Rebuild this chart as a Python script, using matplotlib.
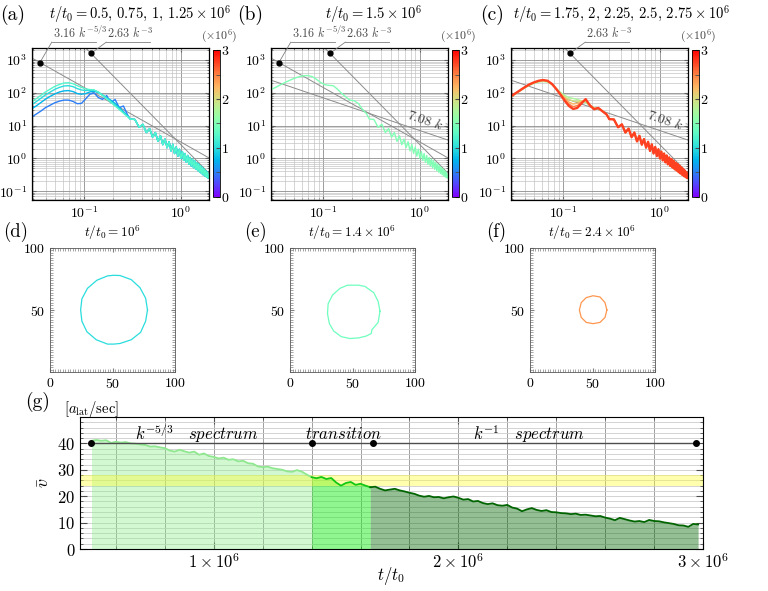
import numpy as np
import matplotlib
matplotlib.use('Agg')
import matplotlib.pyplot as plt
from matplotlib.ticker import MultipleLocator, FixedLocator, FuncFormatter, LogLocator, NullFormatter
from matplotlib.colors import Normalize
from matplotlib.cm import ScalarMappable

plt.rcParams['font.family'] = ['cmr10', 'DejaVu Serif']
plt.rcParams['mathtext.fontset'] = 'cm'
plt.rcParams['axes.formatter.use_mathtext'] = True

# ---------------- data: spectra ----------------
K_HEAD = [0.029, 0.032, 0.036, 0.040, 0.045, 0.050, 0.056, 0.062, 0.069, 0.077, 0.085, 0.094,
          0.104, 0.115, 0.127, 0.140, 0.155, 0.171, 0.189, 0.209, 0.231, 0.255, 0.282]
K_TAIL = [0.300, 0.335, 0.370, 0.405, 0.440, 0.475, 0.510, 0.545, 0.580, 0.615, 0.650, 0.685,
          0.720, 0.755, 0.790, 0.825, 0.860, 0.895, 0.930, 0.965, 1.000, 1.035, 1.070, 1.105,
          1.140, 1.175, 1.210, 1.245, 1.280, 1.315, 1.350, 1.385, 1.420, 1.455, 1.490, 1.525,
          1.560, 1.595, 1.630, 1.665, 1.700, 1.735, 1.770, 1.805, 1.840, 1.875, 1.910, 1.945]
LOGE_TAIL = [1.20, 1.19, 0.95, 1.04, 0.79, 0.91, 0.65, 0.79, 0.52, 0.69, 0.42, 0.59,
             0.33, 0.51, 0.23, 0.43, 0.15, 0.35, 0.07, 0.28, 0.00, 0.21, -0.06, 0.15,
             -0.12, 0.09, -0.18, 0.03, -0.23, -0.02, -0.28, -0.07, -0.33, -0.13, -0.37, -0.17,
             -0.42, -0.22, -0.46, -0.27, -0.50, -0.32, -0.54, -0.37, -0.57, -0.42, -0.60, -0.50]

# panel (a): t/t0 = 0.5, 0.75, 1, 1.25 (x1e6)
TIMES_A = [0.5, 0.75, 1.0, 1.25]
LOGE_A_050 = [1.27, 1.35, 1.45, 1.55, 1.63, 1.70, 1.75, 1.78, 1.78, 1.74, 1.67, 1.68,
              1.82, 1.96, 2.00, 1.86, 1.80, 1.92, 1.70, 1.80, 1.55, 1.60, 1.32]
LOGE_A_075 = [1.52, 1.60, 1.71, 1.81, 1.90, 1.97, 2.03, 2.06, 2.07, 2.04, 1.98, 1.96,
              1.98, 2.03, 2.05, 2.01, 1.93, 1.85, 1.78, 1.68, 1.55, 1.43, 1.30]
LOGE_A_100 = [1.65, 1.73, 1.84, 1.94, 2.03, 2.11, 2.17, 2.21, 2.22, 2.19, 2.13, 2.09,
              2.07, 2.08, 2.08, 2.03, 1.94, 1.85, 1.74, 1.63, 1.52, 1.40, 1.28]
LOGE_A_125 = [1.74, 1.82, 1.93, 2.03, 2.12, 2.20, 2.26, 2.30, 2.31, 2.28, 2.22, 2.17,
              2.12, 2.10, 2.09, 2.02, 1.92, 1.82, 1.71, 1.60, 1.49, 1.38, 1.27]

# panel (b): t/t0 = 1.5
TIMES_B = [1.5]
LOGE_B_150 = [2.10, 2.16, 2.24, 2.31, 2.38, 2.44, 2.49, 2.52, 2.53, 2.50, 2.42, 2.32,
              2.25, 2.23, 2.22, 2.12, 1.99, 1.88, 1.78, 1.76, 1.68, 1.50, 1.36]

# panel (c): t/t0 = 1.75, 2, 2.25, 2.5, 2.75
TIMES_C = [1.75, 2.0, 2.25, 2.5, 2.75]
LOGE_C_175 = [1.88, 1.96, 2.06, 2.15, 2.23, 2.29, 2.33, 2.35, 2.33, 2.25, 2.13, 2.02,
              1.92, 1.86, 1.83, 1.80, 1.76, 1.70, 1.62, 1.55, 1.50, 1.45, 1.34]
LOGE_C_200 = [1.89, 1.97, 2.07, 2.16, 2.24, 2.30, 2.35, 2.37, 2.35, 2.26, 2.13, 1.99,
              1.88, 1.80, 1.75, 1.74, 1.76, 1.74, 1.62, 1.55, 1.52, 1.45, 1.34]
LOGE_C_225 = [1.89, 1.97, 2.07, 2.16, 2.25, 2.31, 2.36, 2.38, 2.36, 2.27, 2.12, 1.97,
              1.84, 1.72, 1.66, 1.68, 1.74, 1.78, 1.63, 1.53, 1.53, 1.44, 1.34]
LOGE_C_250 = [1.90, 1.98, 2.08, 2.17, 2.26, 2.32, 2.37, 2.39, 2.37, 2.27, 2.12, 1.96,
              1.80, 1.66, 1.58, 1.61, 1.71, 1.80, 1.62, 1.51, 1.54, 1.44, 1.34]
LOGE_C_275 = [1.90, 1.98, 2.08, 2.17, 2.26, 2.32, 2.37, 2.39, 2.37, 2.27, 2.12, 1.95,
              1.76, 1.60, 1.51, 1.54, 1.68, 1.81, 1.62, 1.50, 1.54, 1.44, 1.34]

# reference power laws
COEF_53, COEF_3, COEF_1 = 3.16, 2.63, 7.08
K_DOT_53, K_DOT_3 = 0.035, 0.118

# ---------------- data: contours ----------------
CX_D = [78, 76.5, 72, 65, 56, 51, 46, 37.5, 30, 25.5, 24.5, 25.5, 29.5, 37, 46, 51, 56, 65, 72.5, 76.5, 78]
CY_D = [50, 59.5, 68, 74.5, 77.8, 78, 77.5, 74, 67.5, 59, 50, 41, 32.5, 26, 22.5, 22.5, 23, 26, 32, 41, 50]
CX_E = [72, 70.5, 67, 60, 55, 46, 40, 34, 30.5, 30, 31.5, 35, 41, 48, 55, 61, 65, 65.5, 70.5, 72]
CY_E = [49, 57, 64, 69, 70, 70, 67.5, 62, 55, 47, 39, 33, 28.5, 27, 27.5, 29, 31, 34, 40, 49]
CX_F = [61.5, 60, 56, 50.5, 45, 41, 39.5, 41, 45, 50.5, 56, 60, 61.5]
CY_F = [50, 56, 60.5, 61.5, 60, 56, 50, 44, 40, 39, 40, 44, 50]
T_CONTOURS = [1.0, 1.4, 2.4]

# ---------------- data: mean velocity ----------------
T_START, T_END = 0.50, 2.98
V_BAR = [41.0, 41.3, 41.0, 41.2, 40.2, 40.6, 40.3, 40.5, 40.0, 39.9, 39.6, 39.4, 38.8, 38.9, 38.5,
         38.2, 37.3, 36.9, 37.6, 37.0, 36.5, 36.9, 35.7, 36.2, 35.2, 34.9, 34.3, 34.6, 33.8, 34.0,
         33.2, 33.4, 32.5, 32.3, 31.3, 31.0, 31.2, 30.6, 30.3, 30.0, 29.4, 29.2, 29.9, 29.3, 28.2,
         27.2, 26.8, 27.3, 26.5, 26.9, 25.2, 24.0, 25.0, 25.4, 24.3, 24.7, 24.0, 23.4,
         23.6, 22.8, 22.2, 22.5, 22.8, 22.2, 21.8, 21.3, 20.9, 20.2, 19.8, 20.1, 19.6, 19.7, 19.2,
         19.6, 19.9, 19.4, 18.7, 18.9, 18.0, 18.2, 17.4, 17.0, 17.3, 16.6, 16.4, 16.7, 15.7, 15.3,
         14.3, 15.0, 15.5, 14.8, 14.4, 14.7, 14.0, 13.9, 13.6, 13.5, 13.2, 13.4, 12.9, 13.0, 12.7,
         12.4, 12.5, 11.9, 11.5, 10.9, 11.8, 11.3, 10.8, 10.4, 10.6, 10.2, 11.0, 10.6, 10.5, 10.1,
         9.8, 9.5, 9.0, 8.9, 8.4, 9.5, 9.3]
T_MARKS = [0.5, 1.4, 1.65, 2.97]
T_TRANS1, T_TRANS2 = 1.40, 1.65
BAND = (24, 28)

# ---------------- layout helpers ----------------
W, H = 768, 591
fig = plt.figure(figsize=(W / 100, H / 100), dpi=100)


def rect(l, t, r, b):
    return [l / W, 1 - b / H, (r - l) / W, (b - t) / H]


def ftext(x, y, s, **kw):
    fig.text(x / W, 1 - y / H, s, **kw)


cmap = plt.get_cmap('rainbow')
norm = Normalize(0, 3)
K_ALL = np.array(K_HEAD + K_TAIL)


def spectrum_axes(left, curves, show53, show1):
    ax = fig.add_axes(rect(left, 48, left + 177, 200))
    ax.set_xscale('log')
    ax.set_yscale('log')
    ax.set_xlim(0.029, 1.95)
    ax.set_ylim(0.054, 2340)
    ax.xaxis.set_major_locator(LogLocator(base=10, numticks=10))
    ax.yaxis.set_major_locator(LogLocator(base=10, numticks=10))
    ax.xaxis.set_minor_locator(LogLocator(base=10, subs=np.arange(2, 10), numticks=20))
    ax.yaxis.set_minor_locator(LogLocator(base=10, subs=np.arange(2, 10), numticks=20))
    ax.xaxis.set_minor_formatter(NullFormatter())
    ax.yaxis.set_minor_formatter(NullFormatter())
    ax.grid(True, which='major', color='0.55', lw=0.6)
    ax.grid(True, which='minor', color='0.75', lw=0.45)
    ax.set_axisbelow(True)
    ax.tick_params(which='both', direction='in', top=True, right=True, labelsize=10, color='0.4')
    ax.tick_params(which='major', length=3)
    ax.tick_params(which='minor', length=1.5)
    for s in ax.spines.values():
        s.set_linewidth(0.9)
    kk = np.array([0.029, 1.95])
    ax.plot(kk, COEF_3 * kk ** -3.0, color='0.55', lw=0.7)
    ax.plot([K_DOT_3], [COEF_3 * K_DOT_3 ** -3.0], 'o', color='k', ms=3.5, clip_on=False, zorder=6)
    if show53:
        ax.plot(kk, COEF_53 * kk ** (-5 / 3), color='0.55', lw=0.7)
        ax.plot([K_DOT_53], [COEF_53 * K_DOT_53 ** (-5 / 3)], 'o', color='k', ms=3.5, clip_on=False, zorder=6)
    if show1:
        ax.plot(kk, COEF_1 * kk ** -1.0, color='0.55', lw=0.7)
        ax.text(0.70, COEF_1 / 0.70 * 1.28, r'$7.08\ k^{-1}$', rotation=-18.7, rotation_mode='anchor',
                ha='left', va='bottom', fontsize=10, color='0.25', clip_on=True)
    for i, (t, vals) in enumerate(curves):
        lw = 1.7 if (i == len(curves) - 1 and len(curves) == 5) else 1.0
        ax.plot(K_ALL, 10 ** np.array(vals + LOGE_TAIL), color=cmap(norm(t)), lw=lw)
    # annotation leaders
    fyl = 1.039
    if show53:
        x0, x1 = 0.112, 0.36
        ax.annotate('', xy=(K_DOT_53, COEF_53 * K_DOT_53 ** (-5 / 3)), xycoords='data',
                    xytext=(x0, fyl), textcoords='axes fraction', annotation_clip=False,
                    arrowprops=dict(arrowstyle='-', color='0.5', lw=0.6, shrinkA=0, shrinkB=0))
        ax.plot([x0, x1], [fyl, fyl], transform=ax.transAxes, clip_on=False, color='0.5', lw=0.6)
        ax.text(x0 + 0.005, fyl + 0.008, r'$3.16\ k^{-5/3}$', transform=ax.transAxes, fontsize=8.8,
                va='bottom', ha='left', color='0.3')
    x0, x1 = 0.42, 0.665
    ax.annotate('', xy=(K_DOT_3, COEF_3 * K_DOT_3 ** -3.0), xycoords='data',
                xytext=(x0, fyl), textcoords='axes fraction', annotation_clip=False,
                arrowprops=dict(arrowstyle='-', color='0.5', lw=0.6, shrinkA=0, shrinkB=0))
    ax.plot([x0, x1], [fyl, fyl], transform=ax.transAxes, clip_on=False, color='0.5', lw=0.6)
    ax.text(x0 + 0.005, fyl + 0.008, r'$2.63\ k^{-3}$', transform=ax.transAxes, fontsize=8.8,
            va='bottom', ha='left', color='0.3')
    # colorbar
    cax = fig.add_axes(rect(left + 181, 50, left + 188, 197))
    cb = fig.colorbar(ScalarMappable(norm=norm, cmap=cmap), cax=cax)
    cb.set_ticks([0, 1, 2, 3])
    cb.ax.yaxis.set_minor_locator(MultipleLocator(0.5))
    cb.ax.tick_params(which='both', direction='in', labelsize=10, length=3, color='0.3', pad=1)
    cb.outline.set_linewidth(0.6)
    ftext(left + 187, 36, r'$(\times10^6)$', ha='center', va='center', fontsize=8.5, color='0.25')
    return ax


spectrum_axes(32, [(t, v) for t, v in zip(TIMES_A, [LOGE_A_050, LOGE_A_075, LOGE_A_100, LOGE_A_125])],
              True, False)
spectrum_axes(271, [(TIMES_B[0], LOGE_B_150)], True, True)
spectrum_axes(511, [(t, v) for t, v in zip(TIMES_C, [LOGE_C_175, LOGE_C_200, LOGE_C_225, LOGE_C_250, LOGE_C_275])],
              False, True)

ftext(13, 15, '(a)', ha='center', va='center', fontsize=14)
ftext(250, 15, '(b)', ha='center', va='center', fontsize=14)
ftext(492, 15, '(c)', ha='center', va='center', fontsize=14)
ftext(140, 14, r'$t/t_0 = 0.5,\, 0.75,\, 1,\, 1.25\times10^6$', ha='center', va='center', fontsize=10.5)
ftext(374, 14, r'$t/t_0 = 1.5\times10^6$', ha='center', va='center', fontsize=10.5)
ftext(622, 14, r'$t/t_0 = 1.75,\, 2,\, 2.25,\, 2.5,\, 2.75\times10^6$', ha='center', va='center', fontsize=10.5)

# ---------------- contour panels ----------------
cont = [(CX_D, CY_D), (CX_E, CY_E), (CX_F, CY_F)]
titles = [r'$t/t_0 = 10^6$', r'$t/t_0 = 1.4\times10^6$', r'$t/t_0 = 2.4\times10^6$']
labels = ['(d)', '(e)', '(f)']
for i, left in enumerate([50, 290, 530]):
    ax = fig.add_axes(rect(left, 248, left + 125, 372))
    cx, cy = cont[i]
    ax.plot(cx, cy, color=cmap(norm(T_CONTOURS[i])), lw=0.9)
    ax.set_xlim(0, 100)
    ax.set_ylim(0, 100)
    ax.xaxis.set_major_locator(FixedLocator([0, 50, 100]))
    ax.yaxis.set_major_locator(FixedLocator([50, 100]))
    ax.xaxis.set_minor_locator(MultipleLocator(2))
    ax.yaxis.set_minor_locator(MultipleLocator(2))
    ax.tick_params(which='both', direction='in', top=True, right=True, labelsize=10, color='0.5')
    ax.tick_params(which='major', length=3)
    ax.tick_params(which='minor', length=2, width=0.5)
    for s in ax.spines.values():
        s.set_linewidth(0.6)
        s.set_color('0.35')
    ftext(left + 62, 233, titles[i], ha='center', va='center', fontsize=9.5)
    ftext(left - 34, 232, labels[i], ha='center', va='center', fontsize=13.5)

# ---------------- panel (g) ----------------
axg = fig.add_axes(rect(80, 417, 703, 549))
tg = np.linspace(T_START, T_END, len(V_BAR)) * 1e6
vb = np.array(V_BAR)
m1 = tg <= T_TRANS1 * 1e6 + 1
m2 = (tg >= T_TRANS1 * 1e6 - 1) & (tg <= 1.64e6 + 1)
m3 = tg >= 1.64e6 - 1
axg.fill_between(tg[m1], 0, vb[m1], color='#90ee90', alpha=0.4, lw=0, zorder=1)
axg.fill_between(tg[m2], 0, vb[m2], color='#22ee22', alpha=0.5, lw=0, zorder=1)
axg.fill_between(tg[m3], 0, vb[m3], color='#006400', alpha=0.42, lw=0, zorder=1)
axg.plot(tg[m1], vb[m1], color='#8fe88f', lw=1.3, zorder=3)
axg.plot(tg[m2], vb[m2], color='#12c812', lw=1.3, zorder=3)
axg.plot(tg[m3], vb[m3], color='#006400', lw=1.3, zorder=3)
axg.axhspan(BAND[0], BAND[1], color='#ffff33', alpha=0.4, lw=0, zorder=2)
tm = np.array(T_MARKS) * 1e6
axg.plot([tm[0], tm[-1]], [40, 40], color='0.3', lw=1.0, zorder=4)
axg.plot(tm, [40] * len(tm), 'o', color='k', ms=4, zorder=5)
axg.text(0.93e6, 43.5, r'$k^{-5/3}\quad spectrum$', ha='center', va='center', fontsize=12)
axg.text(1.53e6, 43.5, r'$transition$', ha='center', va='center', fontsize=12)
axg.text(2.29e6, 43.5, r'$k^{-1}\quad spectrum$', ha='center', va='center', fontsize=12)
axg.set_xlim(0.453e6, 3.0e6)
axg.set_ylim(0, 50)
axg.xaxis.set_major_locator(FixedLocator([1e6, 2e6, 3e6]))
axg.xaxis.set_major_formatter(FuncFormatter(lambda v, p: r'$%d\times10^6$' % round(v / 1e6)))
axg.xaxis.set_minor_locator(MultipleLocator(0.2e6))
axg.yaxis.set_major_locator(FixedLocator([0, 10, 20, 30, 40]))
axg.yaxis.set_minor_locator(MultipleLocator(2))
axg.grid(True, axis='x', which='both', color='0.62', lw=0.7)
axg.grid(True, axis='y', which='both', color='0.8', lw=0.6)
axg.set_axisbelow(True)
axg.tick_params(which='both', direction='in', top=True, right=True, labelsize=12, color='0.3')
axg.tick_params(which='major', length=5)
axg.tick_params(which='minor', length=2.5)
axg.tick_params(axis='x', which='major', pad=2)
axg.set_ylabel(r'$\bar{v}$', fontsize=13, labelpad=4)
ftext(391, 576, r'$t/t_0$', ha='center', va='center', fontsize=12)
ftext(38, 402, '(g)', ha='center', va='center', fontsize=14)
ftext(91, 409, r'$[a_{\rm lat}/{\rm sec}]$', ha='center', va='center', fontsize=10.5)

fig.savefig('out.png', dpi=100)
